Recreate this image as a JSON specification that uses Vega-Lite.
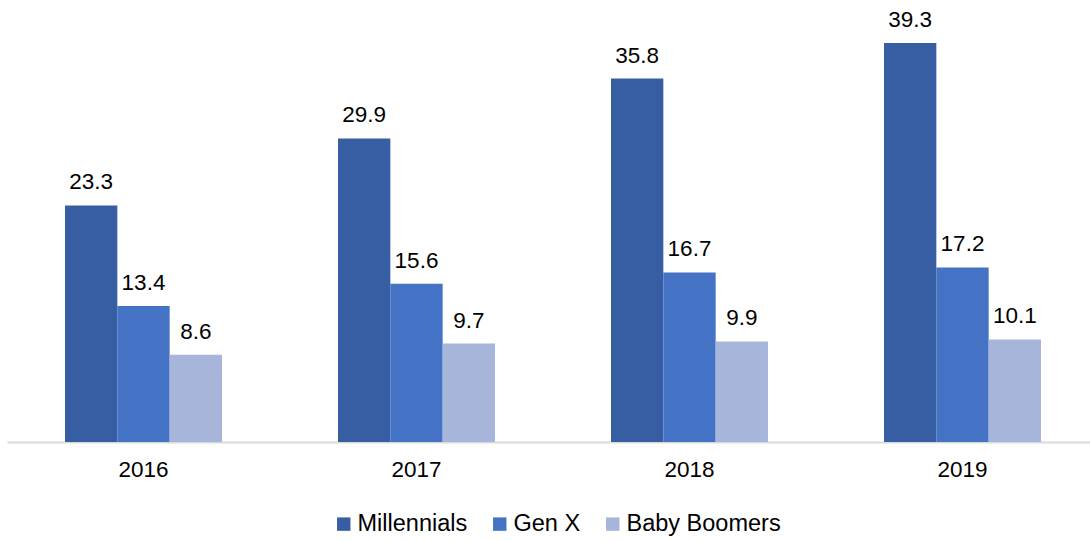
{
  "$schema": "https://vega.github.io/schema/vega-lite/v6.json",
  "autosize": {"type": "none"},
  "padding": {"left": 7, "top": 0, "right": 0, "bottom": 98},
  "width": 1092,
  "height": 442,
  "background": "white",
  "config": {"view": {"stroke": null}, "font": "Liberation Sans"},
  "data": {"values": [
    {"year": "2016", "group": "Millennials", "value": 23.3},
    {"year": "2016", "group": "Gen X", "value": 13.4},
    {"year": "2016", "group": "Baby Boomers", "value": 8.6},
    {"year": "2017", "group": "Millennials", "value": 29.9},
    {"year": "2017", "group": "Gen X", "value": 15.6},
    {"year": "2017", "group": "Baby Boomers", "value": 9.7},
    {"year": "2018", "group": "Millennials", "value": 35.8},
    {"year": "2018", "group": "Gen X", "value": 16.7},
    {"year": "2018", "group": "Baby Boomers", "value": 9.9},
    {"year": "2019", "group": "Millennials", "value": 39.3},
    {"year": "2019", "group": "Gen X", "value": 17.2},
    {"year": "2019", "group": "Baby Boomers", "value": 10.1}
  ]},
  "encoding": {
    "x": {"field": "year", "type": "nominal", "scale": {"paddingInner": 0.425, "paddingOuter": 0.2125},
      "axis": {"title": null, "labelAngle": 0, "ticks": false, "labelFontSize": 22.5, "labelColor": "#000000", "labelPadding": 16, "domainColor": "#D9D9D9", "domainWidth": 2, "grid": false}},
    "xOffset": {"field": "group", "type": "nominal", "sort": ["Millennials", "Gen X", "Baby Boomers"], "scale": {"paddingInner": 0, "paddingOuter": 0}},
    "y": {"field": "value", "type": "quantitative", "scale": {"domain": [0, 43.54], "nice": false}, "axis": null}
  },
  "layer": [
    {"mark": {"type": "bar"},
      "encoding": {
        "color": {"field": "group", "type": "nominal", "sort": ["Millennials", "Gen X", "Baby Boomers"],
          "scale": {"domain": ["Millennials", "Gen X", "Baby Boomers"], "range": ["#375EA2", "#4472C4", "#A8B5DB"]},
          "legend": {"title": null, "orient": "none", "legendX": 325, "legendY": 512, "direction": "horizontal",
            "symbolType": "square", "symbolSize": 180, "symbolStrokeWidth": 0, "labelFontSize": 23.5, "labelColor": "#000000", "labelOffset": 2, "columnPadding": 20}}
      }},
    {"mark": {"type": "text", "baseline": "alphabetic", "dy": -16, "fontSize": 22.5, "color": "#000000"},
      "encoding": {"text": {"field": "value", "type": "quantitative", "format": ".1f"}}}
  ]
}
